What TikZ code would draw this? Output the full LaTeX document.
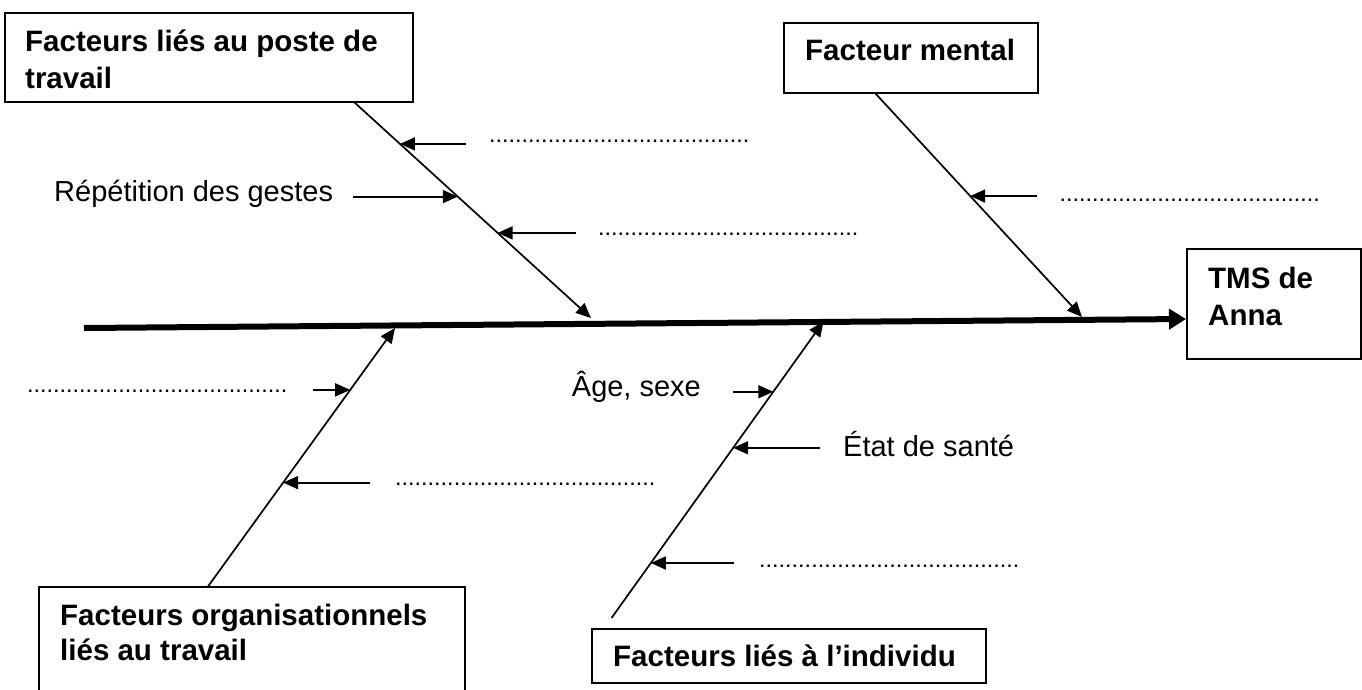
\documentclass[tikz,border=0pt]{standalone}
\usepackage{fontspec}
\setmainfont{Liberation Sans}
\usetikzlibrary{arrows.meta,calc}
\newcommand{\dotrow}{........................................}
\begin{document}
\begin{tikzpicture}[x=1pt,y=-1pt,
  box/.style={draw,line width=2pt,rectangle,inner sep=0pt,outer sep=0pt},
  btxt/.style={anchor=base west,inner sep=0pt,font=\fontsize{29.5}{35}\selectfont\bfseries},
  rtxt/.style={anchor=base west,inner sep=0pt,font=\fontsize{29}{35}\selectfont},
  dotsl/.style={anchor=base west,inner sep=0pt,font=\fontsize{23.4}{28}\selectfont},
  bone/.style={line width=1.7pt,-{Triangle[length=15pt,width=13pt]}},
  sub/.style={line width=1.8pt,{Triangle[length=15pt,width=13pt]}-},
  spine/.style={line width=6pt,-{Triangle[length=17pt,width=20pt]}}
]
\useasboundingbox (0,0) rectangle (1362,689);
% boxes
\node[box,minimum width=408.5pt,minimum height=89pt] (B1) at (208.75,57.5) {};
\node[box,minimum width=254.5pt,minimum height=70pt] (B2) at (910.75,58) {};
\node[box,minimum width=174pt,minimum height=110pt] (B3) at (1274,304) {};
\node[box,minimum width=426pt,minimum height=123pt] (B4) at (252,648.5) {};
\node[box,minimum width=394pt,minimum height=54pt] (B5) at (789,656) {};
% box texts
\node[btxt] (T1a) at (25,51) {Facteurs liés au poste de};
\node[btxt] (T1b) at (25,88) {travail};
\node[btxt] (T2) at (805,60) {Facteur mental};
\node[btxt] (T3a) at (1208,288) {TMS de};
\node[btxt] (T3b) at (1208,325.5) {Anna};
\node[btxt] (T4a) at (60,625) {Facteurs organisationnels};
\node[btxt] (T4b) at (60,660) {liés au travail};
\node[btxt] (T5) at (613,666) {Facteurs liés à l’individu};
% spine
\coordinate (sp0) at (84,328);
\coordinate (sp1) at (1186,319);
\draw[spine] (sp0) -- (sp1);
% bone ends
\coordinate (b1s) at (354,102);
\coordinate (b1e) at (591,318);
\coordinate (b2s) at (875,93);
\coordinate (b2e) at (1082,317);
\coordinate (b3s) at (207.6,587);
\coordinate (b3e) at (395,328);
\coordinate (b4s) at (611.5,618);
\coordinate (b4e) at (823.5,321.5);
\draw[bone] (b1s) -- (b1e);
\draw[bone] (b2s) -- (b2e);
\draw[bone] (b3s) -- (b3e);
\draw[bone] (b4s) -- (b4e);
% tips on bones
\coordinate (a11) at ($(b1s)!0.194!(b1e)$);
\coordinate (a12) at ($(b1s)!0.438!(b1e)$);
\coordinate (a13) at ($(b1s)!0.606!(b1e)$);
\coordinate (a21) at ($(b2s)!0.46!(b2e)$);
\coordinate (a31) at ($(b3s)!0.761!(b3e)$);
\coordinate (a32) at ($(b3s)!0.403!(b3e)$);
\coordinate (a41) at ($(b4s)!0.763!(b4e)$);
\coordinate (a42) at ($(b4s)!0.574!(b4e)$);
\coordinate (a43) at ($(b4s)!0.1855!(b4e)$);
% sub arrows
\draw[sub] (a11) -- ++(66,0) coordinate (c11);
\draw[sub] (a12) -- ++(-105,0) coordinate (c12);
\draw[sub] (a13) -- ++(78,0) coordinate (c13);
\draw[sub] (a21) -- ++(67,0) coordinate (c21);
\draw[sub] (a31) -- ++(-37.5,0) coordinate (c31);
\draw[sub] (a32) -- ++(87,0) coordinate (c32);
\draw[sub] (a41) -- ++(-40,0) coordinate (c41);
\draw[sub] (a42) -- ++(87,0) coordinate (c42);
\draw[sub] (a43) -- ++(83,0) coordinate (c43);
% labels
\node[rtxt] (L1) at (54,201.7) {Répétition des gestes};
\node[rtxt] (L2) at (571.7,396.7) {Âge, sexe};
\node[rtxt] (L3) at (843,456.7) {État de santé};
% dotted placeholders
\node[dotsl] (D1) at (489,142) {\dotrow};
\node[dotsl] (D2) at (1059.5,201) {\dotrow};
\node[dotsl] (D3) at (598,235) {\dotrow};
\node[dotsl] (D4) at (27,392) {\dotrow};
\node[dotsl] (D5) at (395,485) {\dotrow};
\node[dotsl] (D6) at (759,567) {\dotrow};
\end{tikzpicture}
\end{document}
